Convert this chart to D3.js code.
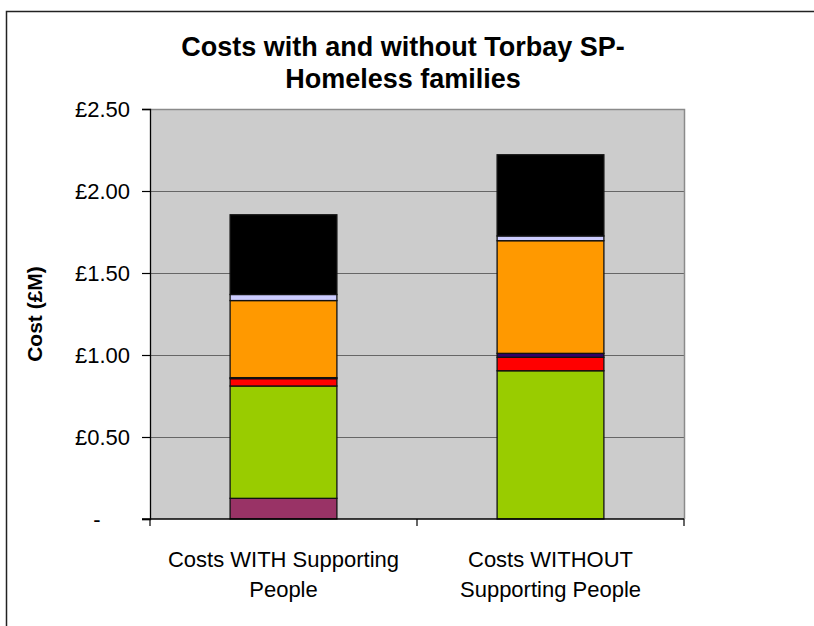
<!DOCTYPE html>
<html>
<head>
<meta charset="utf-8">
<script src="https://cdn.jsdelivr.net/npm/d3@7"></script>
<style>
  html, body { margin: 0; padding: 0; background: #fff; }
  svg { display: block; font-family: "Liberation Sans", Arial, sans-serif; }
</style>
</head>
<body>
<svg id="chart" width="814" height="626"></svg>
<script>
// Categories (x axis), each label split over two lines
const categories = ["Costs WITH Supporting People", "Costs WITHOUT Supporting People"];
const categoryLines = [["Costs WITH Supporting", "People"], ["Costs WITHOUT", "Supporting People"]];

// Cost components in £M, stacked bottom to top
const componentKeys = ["c1", "c2", "c3", "c4", "c5", "c6", "c7"];
const c1 = [0.126, 0.000];
const c2 = [0.685, 0.904];
const c3 = [0.045, 0.082];
const c4 = [0.006, 0.024];
const c5 = [0.470, 0.687];
const c6 = [0.037, 0.029];
const c7 = [0.486, 0.495];
const componentColors = ["#993366", "#99CC00", "#FF0000", "#330066", "#FF9900", "#CCCCFF", "#000000"];

// Y axis ticks and their labels
const yTicks = [0, 0.5, 1.0, 1.5, 2.0, 2.5];
const yTickLabels = ["-", "£0.50", "£1.00", "£1.50", "£2.00", "£2.50"];

const titleLines = ["Costs with and without Torbay SP-", "Homeless families"];
const yTitle = "Cost (£M)";

const rows = categories.map((cat, i) => ({
  category: cat,
  c1: c1[i], c2: c2[i], c3: c3[i], c4: c4[i], c5: c5[i], c6: c6[i], c7: c7[i]
}));

const svg = d3.select("#chart");
const plot = { left: 150, right: 684, top: 109, bottom: 519 };

// Outer chart frame
svg.append("rect")
  .attr("x", 6.5).attr("y", 11.5)
  .attr("width", 830).attr("height", 640)
  .attr("fill", "#fff").attr("stroke", "#222").attr("stroke-width", 1.5);

const x = d3.scaleBand()
  .domain(categories)
  .range([plot.left, plot.right])
  .paddingInner(0.6).paddingOuter(0.3);

const y = d3.scaleLinear().domain([0, 2.5]).range([plot.bottom, plot.top]);

// Plot background
svg.append("rect")
  .attr("x", plot.left).attr("y", plot.top)
  .attr("width", plot.right - plot.left).attr("height", plot.bottom - plot.top)
  .attr("fill", "#CCCCCC");

// Gridlines
svg.append("g")
  .selectAll("line")
  .data(yTicks.filter(t => t > 0 && t < 2.5))
  .join("line")
  .attr("x1", plot.left).attr("x2", plot.right)
  .attr("y1", d => Math.round(y(d)) + 0.5).attr("y2", d => Math.round(y(d)) + 0.5)
  .attr("stroke", "#666").attr("stroke-width", 1);

// Plot border top/right
svg.append("path")
  .attr("d", `M${plot.left},${plot.top + 0.5}H${plot.right + 0.5}V${plot.bottom}`)
  .attr("fill", "none").attr("stroke", "#8a8a8a").attr("stroke-width", 1.5);

// Stacked bars
const stack = d3.stack().keys(componentKeys);
const series = stack(rows);

svg.append("g")
  .selectAll("g")
  .data(series)
  .join("g")
  .attr("fill", (d, i) => componentColors[i])
  .selectAll("rect")
  .data(d => d.filter(s => s[1] - s[0] > 0))
  .join("rect")
  .attr("x", d => x(d.data.category))
  .attr("width", x.bandwidth())
  .attr("y", d => y(d[1]))
  .attr("height", d => y(d[0]) - y(d[1]))
  .attr("stroke", "#111").attr("stroke-width", 1.3);

// Y axis
const yAxis = d3.axisLeft(y)
  .tickValues(yTicks)
  .tickFormat((d, i) => yTickLabels[i])
  .tickSize(8).tickPadding(12);

const gy = svg.append("g")
  .attr("transform", `translate(${plot.left},0)`)
  .call(yAxis);
gy.select(".domain").attr("stroke", "#000").attr("stroke-width", 1.3);
gy.selectAll(".tick line").attr("stroke", "#000").attr("stroke-width", 1.2);
gy.selectAll(".tick text")
  .attr("font-size", 22).attr("fill", "#000")
  .attr("font-family", "Liberation Sans, Arial, sans-serif");
gy.selectAll(".tick").filter(d => d === 0).select("text")
  .attr("text-anchor", "middle")
  .attr("x", -53);

// X axis
const gx = svg.append("g")
  .attr("transform", `translate(0,${plot.bottom})`);
gx.append("line")
  .attr("x1", plot.left - 8).attr("x2", plot.right)
  .attr("y1", 0).attr("y2", 0)
  .attr("stroke", "#000").attr("stroke-width", 1.3);
gx.selectAll("line.sep")
  .data([plot.left, (plot.left + plot.right) / 2, plot.right])
  .join("line")
  .attr("class", "sep")
  .attr("x1", d => d).attr("x2", d => d)
  .attr("y1", 0).attr("y2", 7)
  .attr("stroke", "#000").attr("stroke-width", 1.2);

const labels = gx.selectAll("text.cat")
  .data(categories)
  .join("text")
  .attr("class", "cat")
  .attr("text-anchor", "middle")
  .attr("font-size", 22)
  .attr("fill", "#000");
labels.each(function(d, i) {
  const t = d3.select(this);
  categoryLines[i].forEach((line, j) => {
    t.append("tspan")
      .attr("x", x(d) + x.bandwidth() / 2)
      .attr("y", 48 + j * 30)
      .text(line);
  });
});

// Title
const title = svg.append("text")
  .attr("text-anchor", "middle")
  .attr("font-size", 27)
  .attr("font-weight", "bold")
  .attr("fill", "#000");
titleLines.forEach((line, j) => {
  title.append("tspan").attr("x", 403).attr("y", 56 + j * 32).text(line);
});

// Y axis title
svg.append("text")
  .attr("transform", `translate(42,${(plot.top + plot.bottom) / 2}) rotate(-90)`)
  .attr("text-anchor", "middle")
  .attr("font-size", 21)
  .attr("font-weight", "bold")
  .attr("fill", "#000")
  .text(yTitle);
</script>
</body>
</html>
